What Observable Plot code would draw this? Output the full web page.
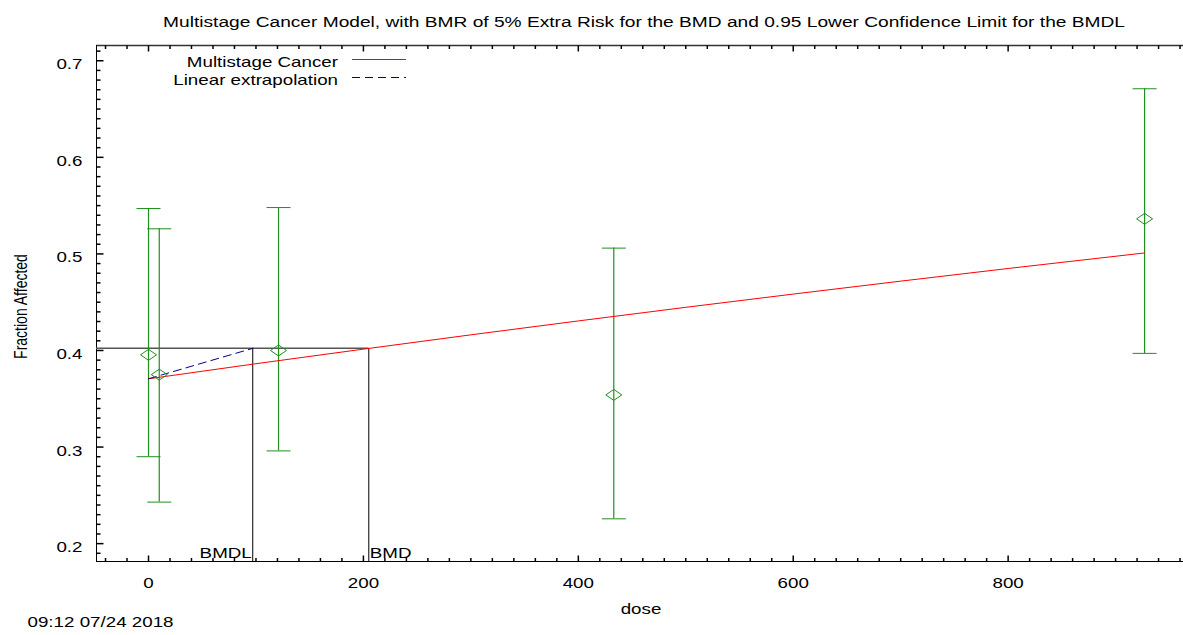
<!DOCTYPE html>
<html>
<head>
<meta charset="utf-8">
<script src="https://cdn.jsdelivr.net/npm/d3@7"></script>
<script src="https://cdn.jsdelivr.net/npm/@observablehq/plot@0.6"></script>
<style>
  html, body { margin: 0; padding: 0; background: #fff; overflow: hidden; }
</style>
</head>
<body>
<div id="chart"></div>
<script>
// ---- data ----
const doses = [0, 10, 121, 433, 927];
const means = [0.3955, 0.375, 0.400, 0.354, 0.5363];
const lower = [0.290, 0.243, 0.296, 0.2257, 0.397];
const upper = [0.547, 0.526, 0.548, 0.506, 0.671];

const modelDose = [0, 100, 200, 300, 400, 500, 600, 700, 800, 927];
const modelResp = [0.3707, 0.3863, 0.4014, 0.4162, 0.4306, 0.4447, 0.4584, 0.4718, 0.4849, 0.5010];

const background = 0.3707;
const bmrResponse = 0.4022;
const BMD = 205;
const BMDL = 97;

const xTickLabels = [0, 200, 400, 600, 800];
const yTickLabels = [0.2, 0.3, 0.4, 0.5, 0.6, 0.7];

const titleText = "Multistage Cancer Model, with BMR of 5% Extra Risk for the BMD and 0.95 Lower Confidence Limit for the BMDL";
const xLabel = "dose";
const yLabel = "Fraction Affected";
const stamp = "09:12 07/24 2018";
const legendLabels = ["Multistage Cancer", "Linear extrapolation"];
const bmdLabels = ["BMDL", "BMD"];

// ---- scale extents ----
const xMin = -48.4, xMax = 963.2;
const yMin = 0.1815, yMax = 0.7158;

const W = 1183, H = 635;
const mL = 96, mT = 45, mR = 0, mB = 74;

const obs = doses.map((d, i) => ({dose: d, mean: means[i], lo: lower[i], hi: upper[i]}));
const model = modelDose.map((d, i) => ({dose: d, resp: modelResp[i]}));
const extrap = [{dose: 0, resp: background}, {dose: BMDL, resp: bmrResponse}];

const xMinor = d3.range(-40, 961, 20);
const yMinor = d3.range(19, 72).map(i => i / 100);
const isMajorX = d => Math.round(d) % 200 === 0;
const isMajorY = d => Math.round(d * 100) % 10 === 0;

// custom symbols
const sym = (fn) => ({draw: (ctx) => fn(ctx)});
const tickUpMinor = sym(c => { c.moveTo(0, 0); c.lineTo(0, -3.5); });
const tickUpMajor = sym(c => { c.moveTo(0, 0); c.lineTo(0, -6); });
const tickDownMinor = sym(c => { c.moveTo(0, 0); c.lineTo(0, 3.5); });
const tickDownMajor = sym(c => { c.moveTo(0, 0); c.lineTo(0, 6); });
const tickRightMinor = sym(c => { c.moveTo(0, 0); c.lineTo(4, 0); });
const tickRightMajor = sym(c => { c.moveTo(0, 0); c.lineTo(7, 0); });
const capSym = sym(c => { c.moveTo(-12, 0); c.lineTo(12, 0); });
const diamondSym = sym(c => { c.moveTo(0, -5.5); c.lineTo(8, 0); c.lineTo(0, 5.5); c.lineTo(-8, 0); c.closePath(); });

const green = "#1f8f1f";
const FONT = "Liberation Sans, Arial, Helvetica, sans-serif";

const svg = Plot.plot({
  width: W,
  height: H,
  marginLeft: mL, marginTop: mT, marginRight: mR, marginBottom: mB,
  style: {fontFamily: FONT, fontSize: "14px", background: "#fff", color: "#000", overflow: "visible"},
  x: {domain: [xMin, xMax]},
  y: {domain: [yMin, yMax]},
  marks: [
    // frame lines
    Plot.ruleY([yMin], {stroke: "#000", strokeWidth: 1}),
    Plot.ruleY([yMax], {stroke: "#333", strokeWidth: 1.4}),
    Plot.ruleX([xMin], {stroke: "#000", strokeWidth: 1}),
    // inward ticks
    Plot.dot(xMinor.filter(d => !isMajorX(d)), {x: d => d, y: yMin, symbol: tickUpMinor, stroke: "#000", fill: "none"}),
    Plot.dot(xMinor.filter(isMajorX), {x: d => d, y: yMin, symbol: tickUpMajor, stroke: "#000", fill: "none"}),
    Plot.dot(xMinor.filter(d => !isMajorX(d)), {x: d => d, y: yMax, symbol: tickDownMinor, stroke: "#000", fill: "none"}),
    Plot.dot(xMinor.filter(isMajorX), {x: d => d, y: yMax, symbol: tickDownMajor, stroke: "#000", fill: "none"}),
    Plot.dot(yMinor.filter(d => !isMajorY(d)), {y: d => d, x: xMin, symbol: tickRightMinor, stroke: "#000", fill: "none"}),
    Plot.dot(yMinor.filter(isMajorY), {y: d => d, x: xMin, symbol: tickRightMajor, stroke: "#000", fill: "none"}),
    // tick labels
    Plot.axisX({ticks: xTickLabels, tickSize: 0, tickPadding: 17, label: null, fontSize: 14}),
    Plot.axisY({ticks: yTickLabels, tickSize: 0, tickPadding: 14, tickFormat: d3.format(".1f"), label: null, dy: 4, fontSize: 14}),
    // BMR / BMD / BMDL lines
    Plot.ruleY([bmrResponse], {x1: xMin, x2: BMD, stroke: "#555", strokeWidth: 1.5}),
    Plot.ruleX([BMDL, BMD], {y1: yMin, y2: bmrResponse, stroke: "#000", strokeWidth: 1}),
    Plot.text([bmdLabels[0]], {x: BMDL, y: yMin, textAnchor: "end", lineAnchor: "bottom", dx: -1, dy: -4, fontSize: 14, fill: "#000"}),
    Plot.text([bmdLabels[1]], {x: BMD, y: yMin, textAnchor: "start", lineAnchor: "bottom", dx: 1, dy: -4, fontSize: 14, fill: "#000"}),
    // error bars
    Plot.ruleX(obs, {x: "dose", y1: "lo", y2: "hi", stroke: green, strokeWidth: 1.2}),
    Plot.dot(obs, {x: "dose", y: "hi", symbol: capSym, stroke: green, fill: "none", strokeWidth: 1}),
    Plot.dot(obs, {x: "dose", y: "lo", symbol: capSym, stroke: green, fill: "none", strokeWidth: 1}),
    // model
    Plot.line(model, {x: "dose", y: "resp", stroke: "#ff0000", strokeWidth: 1}),
    Plot.line(extrap, {x: "dose", y: "resp", stroke: "#00008b", strokeWidth: 1, strokeDasharray: "8,5"}),
    // observed means
    Plot.dot(obs, {x: "dose", y: "mean", symbol: diamondSym, stroke: green, fill: "none", strokeWidth: 1}),
    // titles
    Plot.text([titleText], {frameAnchor: "top", dx: 4, dy: -23, textAnchor: "middle", lineAnchor: "middle", fontSize: 14.3, fill: "#000"}),
    Plot.text([xLabel], {frameAnchor: "bottom", dx: 1, dy: 48, textAnchor: "middle", lineAnchor: "middle", fontSize: 14, fill: "#000"}),
    Plot.text([yLabel], {frameAnchor: "left", dx: -76, dy: 3, rotate: -90, textAnchor: "middle", lineAnchor: "middle", fontSize: 14, fill: "#000"}),
    Plot.text([stamp], {frameAnchor: "bottom-left", dx: -69, dy: 61, textAnchor: "start", lineAnchor: "middle", fontSize: 14, fill: "#000"})
  ]
});

// legend
const g = d3.select(svg).append("g").attr("font-family", FONT).attr("font-size", 14);
g.append("text").attr("x", 338).attr("y", 67.5).attr("text-anchor", "end").attr("fill", "#000").text(legendLabels[0]);
g.append("text").attr("x", 338).attr("y", 85).attr("text-anchor", "end").attr("fill", "#000").text(legendLabels[1]);
g.append("line").attr("x1", 352).attr("x2", 406).attr("y1", 59.5).attr("y2", 59.5).attr("stroke", "#ff0000").attr("stroke-width", 1);
g.append("line").attr("x1", 352).attr("x2", 406).attr("y1", 77.5).attr("y2", 77.5).attr("stroke", "#00008b").attr("stroke-width", 1).attr("stroke-dasharray", "8,5");

// horizontal glyph stretch to mimic the reference's wide lettering
const K = 1.34;
d3.select(svg).selectAll("text").each(function () {
  const t = this.getAttribute("transform");
  if (t && /^translate\(/.test(t)) {
    this.setAttribute("transform", t.replace(/^(translate\([^)]*\))/, `$1 scale(${K},1)`));
  } else {
    const x = +this.getAttribute("x") || 0, y = +this.getAttribute("y") || 0;
    this.setAttribute("transform", `translate(${x},${y}) scale(${K},1) translate(${-x},${-y})` + (t ? " " + t : ""));
  }
});

document.getElementById("chart").appendChild(svg);
</script>
</body>
</html>
